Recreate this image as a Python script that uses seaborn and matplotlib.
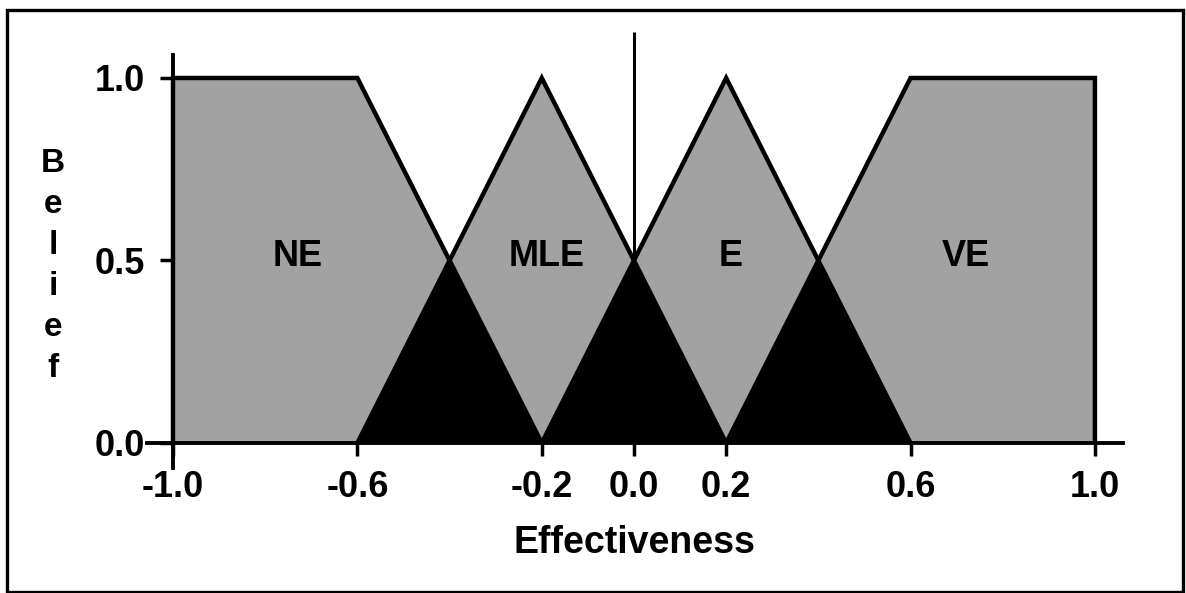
import matplotlib.pyplot as plt
import numpy as np
import pandas as pd
import seaborn as sns
from matplotlib.patches import Rectangle

# membership functions (breakpoints)
ne_x = [-1.0, -1.0, -0.6, -0.2]
ne_y = [0.0, 1.0, 1.0, 0.0]
mle_x = [-0.6, -0.2, 0.2]
mle_y = [0.0, 1.0, 0.0]
e_x = [-0.2, 0.2, 0.6]
e_y = [0.0, 1.0, 0.0]
ve_x = [0.2, 0.6, 1.0, 1.0]
ve_y = [0.0, 1.0, 1.0, 0.0]

set_names = ["NE", "MLE", "E", "VE"]
label_x = [-0.73, -0.19, 0.21, 0.72]
label_y = [0.51, 0.51, 0.51, 0.51]

x_ticks = [-1.0, -0.6, -0.2, 0.0, 0.2, 0.6, 1.0]
x_tick_labels = ["-1.0", "-0.6", "-0.2", "0.0", "0.2", "0.6", "1.0"]
y_ticks = [0.0, 0.5, 1.0]
y_tick_labels = ["0.0", "0.5", "1.0"]

GRAY = "#a2a2a2"


def main():
    sns.set_theme(style="white")
    plt.rcParams["font.family"] = ["Liberation Sans", "DejaVu Sans"]
    plt.rcParams["font.weight"] = "bold"
    for key in ["text.color", "axes.labelcolor", "xtick.color", "ytick.color"]:
        plt.rcParams[key] = "black"

    fig = plt.figure(figsize=(11.86, 5.93), dpi=100)
    ax = fig.add_axes([0.107, 0.1914, 0.8745, 0.7879])
    ax.set_xlim(-1.1, 1.15)
    ax.set_ylim(-0.1, 1.18)

    sets = [(ne_x, ne_y), (mle_x, mle_y), (e_x, e_y), (ve_x, ve_y)]

    # gray areas
    for xs, ys in sets:
        ax.fill(xs, ys, color=GRAY, lw=0, zorder=1)

    # black overlaps of neighbouring sets
    grid = np.linspace(-1.0, 1.0, 2001)
    for (xa, ya), (xb, yb) in zip(sets[:-1], sets[1:]):
        fa = np.interp(grid, xa[1:] if xa[0] == xa[1] else xa, ya[1:] if xa[0] == xa[1] else ya, left=0, right=0)
        fb = np.interp(grid, xb[:-1] if xb[-1] == xb[-2] else xb, yb[:-1] if xb[-1] == xb[-2] else yb, left=0, right=0)
        ax.fill_between(grid, 0, np.minimum(fa, fb), color="black", lw=0, zorder=1.5)

    # outlines
    for xs, ys in sets:
        df = pd.DataFrame({"x": xs, "y": ys})
        sns.lineplot(data=df, x="x", y="y", sort=False, estimator=None,
                     color="black", lw=3.2, ax=ax, zorder=2,
                     solid_joinstyle="miter")

    ax.vlines(0.0, 0.0, 1.126, color="black", lw=2.2, zorder=2)

    for name, lx, ly in zip(set_names, label_x, label_y):
        ax.text(lx, ly, name, ha="center", va="center", fontsize=26,
                fontweight="bold", color="black", zorder=3)

    for side in ["top", "right"]:
        ax.spines[side].set_visible(False)
    ax.spines["left"].set_position(("data", -1.0))
    ax.spines["left"].set_bounds(-0.068, 1.063)
    ax.spines["bottom"].set_position(("data", 0.0))
    ax.spines["bottom"].set_bounds(-1.056, 1.06)
    for side in ["left", "bottom"]:
        ax.spines[side].set_linewidth(2.8)
        ax.spines[side].set_color("black")
        ax.spines[side].set_zorder(2.5)

    ax.set_xticks(x_ticks, labels=x_tick_labels)
    ax.set_yticks(y_ticks, labels=y_tick_labels)
    ax.tick_params(axis="x", direction="out", length=9.5, width=2.5,
                   color="black", labelcolor="black", pad=10, labelsize=26,
                   bottom=True)
    ax.tick_params(axis="y", direction="out", length=9.5, width=2.5,
                   color="black", labelcolor="black", pad=11, labelsize=26,
                   left=True)
    for lab in ax.get_xticklabels() + ax.get_yticklabels():
        lab.set_fontweight("bold")
    ax.set_xlabel("")
    ax.set_ylabel("")

    fig.text(634 / 1186, 1 - 543 / 593, "Effectiveness", ha="center",
             va="center", fontsize=27, fontweight="bold", color="black")

    # stacked "Belief"
    for i, ch in enumerate("Belief"):
        fig.text(53 / 1186, 1 - (172 + 41 * i) / 593, ch, ha="center",
                 va="baseline", fontsize=24, fontweight="bold", color="black")

    fig.add_artist(Rectangle((7 / 1186, 1 / 593), 1176 / 1186, 582 / 593,
                             transform=fig.transFigure, fill=False,
                             lw=2.4, ec="black"))

    fig.savefig("out.png", dpi=100)


if __name__ == "__main__":
    main()
